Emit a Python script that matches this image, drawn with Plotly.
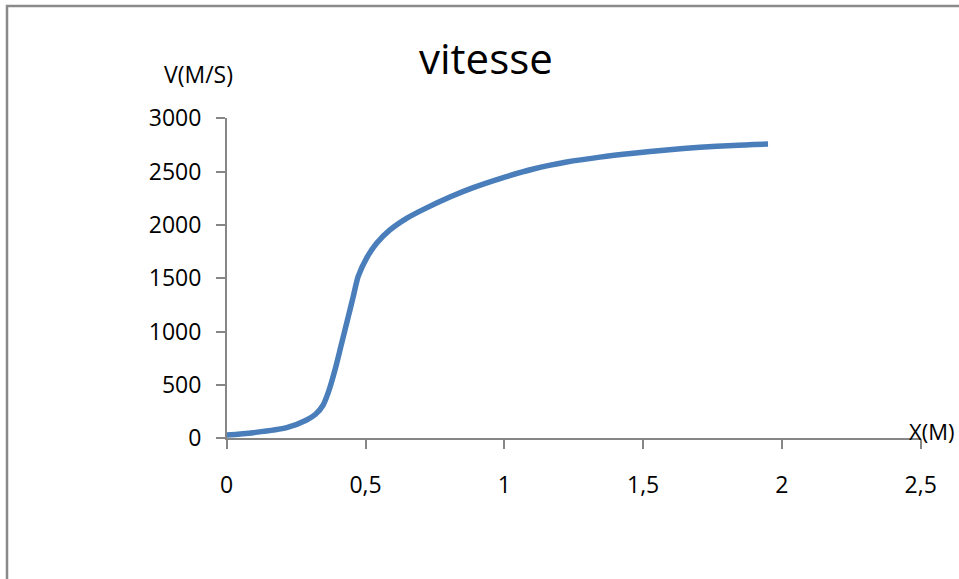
import plotly.graph_objects as go

# Position X (m) and speed V (m/s)
x_m = [0.0, 0.096, 0.216, 0.288, 0.32, 0.347, 0.366, 0.39, 0.414, 0.438, 0.456, 0.474,
       0.504, 0.54, 0.588, 0.648, 0.72, 0.804, 0.888, 0.985, 1.105, 1.225,
       1.345, 1.465, 1.585, 1.705, 1.825, 1.95]
v_ms = [30, 53, 100, 172, 225, 310, 430, 640, 890, 1140, 1330, 1520,
        1690, 1828, 1953, 2062, 2160, 2262, 2350, 2435, 2525, 2590,
        2636, 2672, 2703, 2728, 2746, 2758]

x_ticks = [0, 0.5, 1, 1.5, 2, 2.5]
x_tick_text = ["0", "0,5", "1", "1,5", "2", "2,5"]
y_ticks = [0, 500, 1000, 1500, 2000, 2500, 3000]

title_text = "vitesse"
y_label = "V(M/S)"
x_label = "X(M)"

W, H = 959, 579
FONT = "Open Sans"
AXIS_GREY = "#868686"

fig = go.Figure()
fig.add_trace(go.Scatter(
    x=x_m, y=v_ms, mode="lines",
    line=dict(color="#4a7ebb", width=5.5, shape="spline", smoothing=0.8),
    showlegend=False, hoverinfo="skip",
))

fig.update_layout(
    width=W, height=H,
    margin=dict(l=0, r=0, t=0, b=0, pad=0, autoexpand=False),
    paper_bgcolor="white", plot_bgcolor="white",
    font=dict(family=FONT, size=23, color="#000000"),
    showlegend=False,
)

fig.update_xaxes(
    range=[0, 2.5], domain=[226.7 / W, 920.7 / W],
    tickvals=x_ticks, ticktext=x_tick_text,
    showgrid=False, zeroline=False, automargin=False,
    showline=True, linecolor=AXIS_GREY, linewidth=1.5,
    ticks="outside", ticklen=9, tickwidth=1.5, tickcolor=AXIS_GREY,
    ticklabelstandoff=16,
    tickfont=dict(family=FONT, size=23, color="#000000"),
)
fig.update_yaxes(
    range=[0, 3000], domain=[(H - 438.3) / H, (H - 118.3) / H],
    tickvals=y_ticks,
    showgrid=False, zeroline=False, automargin=False,
    showline=True, linecolor=AXIS_GREY, linewidth=1.5,
    ticks="outside", ticklen=9, tickwidth=1.5, tickcolor=AXIS_GREY,
    ticklabelstandoff=10,
    tickfont=dict(family=FONT, size=23, color="#000000"),
)

# Chart frame
fig.add_shape(
    type="rect", xref="paper", yref="paper",
    x0=7 / W, x1=1.02, y0=-0.02, y1=1 - 6 / H,
    line=dict(color="#8a8a8a", width=2.5), fillcolor="rgba(0,0,0,0)",
    layer="below",
)

# Title and axis labels
fig.add_annotation(
    text=title_text, xref="paper", yref="paper",
    x=486 / W, y=1 - 58 / H, xanchor="center", yanchor="middle",
    showarrow=False, font=dict(family=FONT, size=42, color="#000000"),
)
fig.add_annotation(
    text=y_label, xref="paper", yref="paper",
    x=198 / W, y=1 - 74 / H, xanchor="center", yanchor="middle",
    showarrow=False, font=dict(family=FONT, size=23, color="#000000"),
)
fig.add_annotation(
    text=x_label, xref="paper", yref="paper",
    x=931 / W, y=1 - 431 / H, xanchor="center", yanchor="middle",
    showarrow=False, font=dict(family=FONT, size=22, color="#000000"),
)

fig.write_html("out.html")
